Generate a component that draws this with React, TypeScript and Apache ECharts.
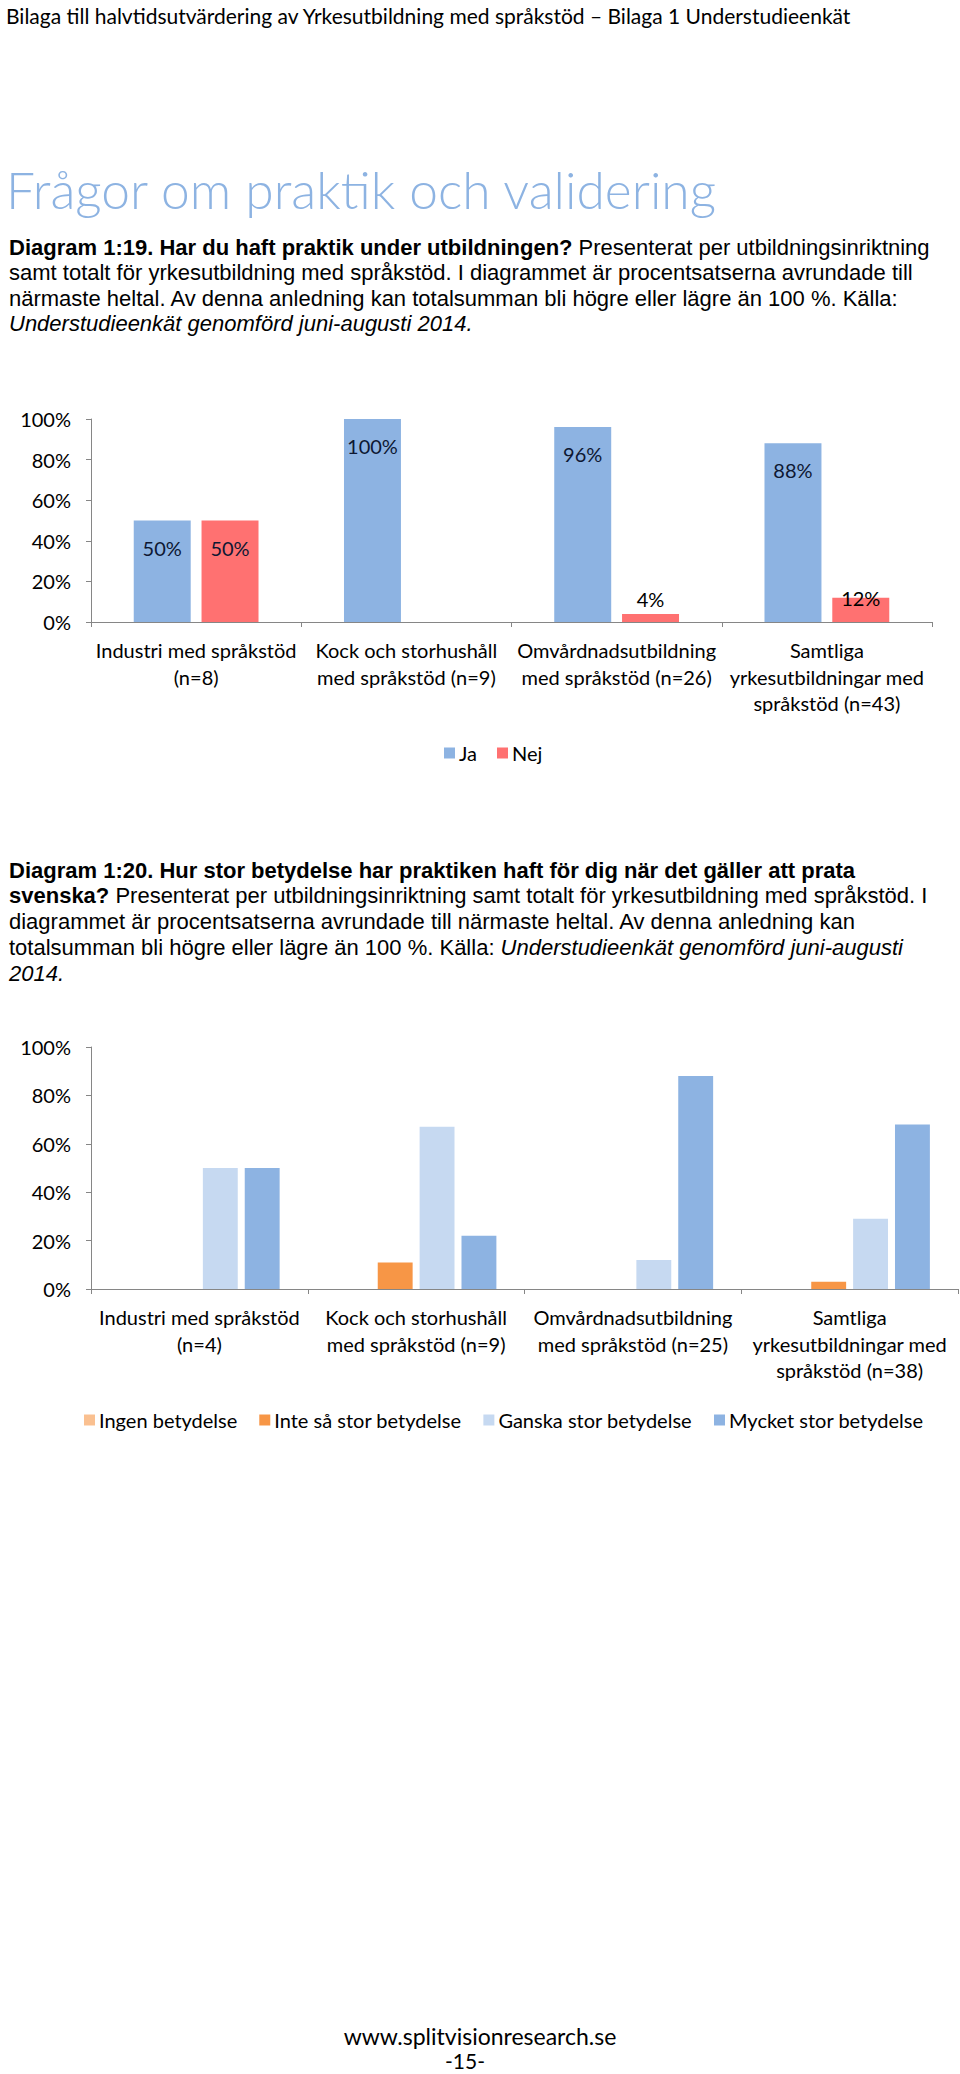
import React, { useEffect, useRef } from 'react';
import * as echarts from 'echarts';

// ---------- data ----------
const categories1 = [
  'Industri med språkstöd\n(n=8)',
  'Kock och storhushåll\nmed språkstöd (n=9)',
  'Omvårdnadsutbildning\nmed språkstöd (n=26)',
  'Samtliga\nyrkesutbildningar med\nspråkstöd (n=43)',
];
const seriesNames1 = ['Ja', 'Nej'];
const ja = [50, 100, 96, 88];
const nej = [50, 0, 4, 12];

const categories2 = [
  'Industri med språkstöd\n(n=4)',
  'Kock och storhushåll\nmed språkstöd (n=9)',
  'Omvårdnadsutbildning\nmed språkstöd (n=25)',
  'Samtliga\nyrkesutbildningar med\nspråkstöd (n=38)',
];
const seriesNames2 = ['Ingen betydelse', 'Inte så stor betydelse', 'Ganska stor betydelse', 'Mycket stor betydelse'];
const ingenBetydelse = [0, 0, 0, 0];
const inteSaStorBetydelse = [0, 11, 0, 3];
const ganskaStorBetydelse = [50, 67, 12, 29];
const mycketStorBetydelse = [50, 22, 88, 68];

const yMin = 0;
const yMax = 100;
const yStep = 20;

const headerText = 'Bilaga till halvtidsutvärdering av Yrkesutbildning med språkstöd – Bilaga 1 Understudieenkät';
const titleText = 'Frågor om praktik och validering';
const caption1 = [
  '{b|Diagram 1:19. Har du haft praktik under utbildningen?}{r| Presenterat per utbildningsinriktning}',
  '{r|samt totalt för yrkesutbildning med språkstöd. I diagrammet är procentsatserna avrundade till}',
  '{r|närmaste heltal. Av denna anledning kan totalsumman bli högre eller lägre än 100 %. Källa:}',
  '{i|Understudieenkät genomförd juni-augusti 2014.}',
];
const caption2 = [
  '{b|Diagram 1:20. Hur stor betydelse har praktiken haft för dig när det gäller att prata}',
  '{b|svenska?}{r| Presenterat per utbildningsinriktning samt totalt för yrkesutbildning med språkstöd. I}',
  '{r|diagrammet är procentsatserna avrundade till närmaste heltal. Av denna anledning kan}',
  '{r|totalsumman bli högre eller lägre än 100 %. Källa: }{i|Understudieenkät genomförd juni-augusti}',
  '{i|2014.}',
];
const footer = ['www.splitvisionresearch.se', '-15-'];

// ---------- styles ----------
const CAL = 'Lato, "Noto Sans", sans-serif';
const ARIAL = '"Liberation Sans", Arial, sans-serif';
const axisColor = '#868686';
const chartFont = 20;
const capSize = 22;

const richCap = {
  b: { fontFamily: ARIAL, fontSize: capSize, fontWeight: 'bold', fill: '#000', color: '#000' },
  r: { fontFamily: ARIAL, fontSize: capSize, fontWeight: 'normal', fill: '#000', color: '#000' },
  i: { fontFamily: ARIAL, fontSize: capSize, fontStyle: 'italic', fill: '#000', color: '#000' },
};

function captionLines(lines: string[], yStart: number, step: number) {
  return lines.map((t, i) => ({
    type: 'text',
    x: 9,
    y: yStart + i * step,
    style: {
      text: t,
      rich: richCap,
      fontFamily: ARIAL,
      fontSize: capSize,
      fill: '#000',
      verticalAlign: 'middle',
      align: 'left',
    },
  }));
}

function yAxis(gridIndex: number) {
  return {
    type: 'value',
    gridIndex,
    min: yMin,
    max: yMax,
    interval: yStep,
    axisLine: { show: true, lineStyle: { color: axisColor, width: 1 } },
    axisTick: { show: true, length: 5, lineStyle: { color: axisColor } },
    splitLine: { show: false },
    axisLabel: { formatter: '{value}%', color: '#000', fontFamily: CAL, fontSize: chartFont, margin: 20 },
  };
}

function xAxis(gridIndex: number, data: string[], margin: number) {
  return {
    type: 'category',
    gridIndex,
    data,
    axisLine: { show: true, lineStyle: { color: axisColor, width: 1 } },
    axisTick: { show: true, length: 5, interval: 0, lineStyle: { color: axisColor } },
    axisLabel: {
      interval: 0,
      color: '#000',
      fontFamily: CAL,
      fontSize: chartFont,
      lineHeight: 26.5,
      margin,
    },
  };
}

function labelFor(v: number) {
  if (v === 0) return { show: false };
  if (v >= 20) {
    return { show: true, position: 'insideTop', distance: 17, color: '#0e1833', fontFamily: CAL, fontSize: chartFont, formatter: '{c}%' };
  }
  if (v >= 10) {
    return { show: true, position: 'top', distance: -10, color: '#000', fontFamily: CAL, fontSize: chartFont, formatter: '{c}%' };
  }
  return { show: true, position: 'top', distance: 5, color: '#000', fontFamily: CAL, fontSize: chartFont, formatter: '{c}%' };
}

export default function App() {
  const ref = useRef<HTMLDivElement>(null);
  useEffect(() => {
    if (!ref.current) return;
    const chart = echarts.init(ref.current, undefined, { renderer: 'svg' });
    const colors1 = ['#8DB3E2', '#FF7171'];
    const colors2 = ['#FAC090', '#F79646', '#C6D9F1', '#8DB3E2'];
    const values2 = [ingenBetydelse, inteSaStorBetydelse, ganskaStorBetydelse, mycketStorBetydelse];
    const legendText = { fontFamily: CAL, fontSize: chartFont, color: '#000', padding: [0, 0, 0, -1] };
    const option: any = {
      animation: false,
      backgroundColor: '#fff',
      grid: [
        { left: 91, top: 419, width: 841, height: 203, containLabel: false },
        { left: 91, top: 1047, width: 867, height: 242, containLabel: false },
      ],
      xAxis: [xAxis(0, categories1, 15), xAxis(1, categories2, 15)],
      yAxis: [yAxis(0), yAxis(1)],
      legend: [
        {
          data: seriesNames1,
          left: 439,
          top: 738,
          itemWidth: 11,
          itemHeight: 11,
          itemGap: 20,
          icon: 'rect',
          selectedMode: false,
          textStyle: legendText,
        },
        {
          data: seriesNames2,
          left: 79,
          top: 1405,
          itemWidth: 11,
          itemHeight: 11,
          itemGap: 22,
          icon: 'rect',
          selectedMode: false,
          textStyle: legendText,
        },
      ],
      series: [
        ...[ja, nej].map((vals, si) => ({
          type: 'bar',
          name: seriesNames1[si],
          xAxisIndex: 0,
          yAxisIndex: 0,
          barWidth: '27.1%',
          barGap: '19%',
          itemStyle: { color: colors1[si] },
          data: vals.map((v) => ({ value: v, label: labelFor(v) })),
        })),
        ...values2.map((vals, si) => ({
          type: 'bar',
          name: seriesNames2[si],
          xAxisIndex: 1,
          yAxisIndex: 1,
          barWidth: '16.1%',
          barGap: '20%',
          itemStyle: { color: colors2[si] },
          data: vals,
        })),
      ],
      graphic: [
        {
          type: 'text',
          x: 6,
          y: 15,
          style: { text: headerText, fontFamily: CAL, fontSize: 21, fill: '#000', verticalAlign: 'middle' },
        },
        {
          type: 'text',
          x: 6,
          y: 189,
          style: { text: titleText, fontFamily: CAL, fontWeight: 300, fontSize: 51.5, fill: '#8DB3E2', verticalAlign: 'middle' },
        },
        ...captionLines(caption1, 247, 25.6),
        ...captionLines(caption2, 870, 25.8),
        {
          type: 'text',
          x: 480,
          y: 2036,
          style: { text: footer[0], fontFamily: CAL, fontSize: 23, fill: '#000', align: 'center', verticalAlign: 'middle' },
        },
        {
          type: 'text',
          x: 465,
          y: 2060,
          style: { text: footer[1], fontFamily: CAL, fontSize: 21, fill: '#000', align: 'center', verticalAlign: 'middle' },
        },
      ],
    };
    chart.setOption(option);
    return () => chart.dispose();
  }, []);
  return (
    <div
      ref={ref}
      style={{ position: 'absolute', left: 0, top: 0, width: 960, height: 2074, background: '#fff' }}
    />
  );
}
